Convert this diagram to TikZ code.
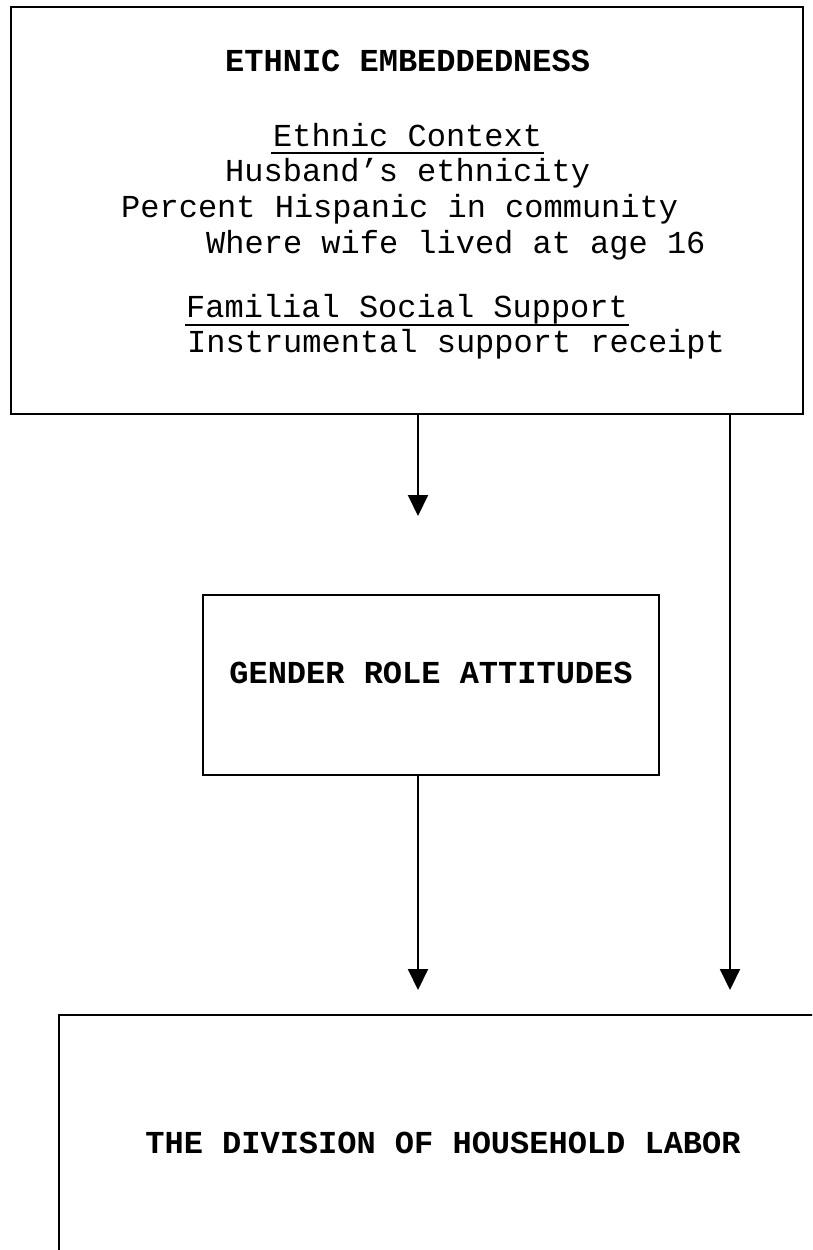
\documentclass[tikz,border=0pt]{standalone}
\usepackage{fontspec}
\setmonofont{Liberation Mono}
\usetikzlibrary{arrows.meta}
\begin{document}
\begin{tikzpicture}[x=1pt,y=-1pt,
  box/.style={draw, line width=2pt, rectangle, inner sep=0pt, anchor=north west},
  txt/.style={inner sep=0pt, font=\ttfamily\fontsize{32}{36}\selectfont},
  ttl/.style={inner sep=0pt, font=\ttfamily\bfseries\fontsize{32}{36}\selectfont},
  arr/.style={line width=2pt, -{Triangle[width=20pt,length=21pt]}},
  uline/.style={line width=2pt}]
\useasboundingbox (0,0) rectangle (812,1250);
\clip (0,0) rectangle (812,1250);
\fill[white] (0,0) rectangle (812,1250);

% boxes
\node[box, minimum width=792pt, minimum height=407pt] (eth) at (10,6) {};
\node[box, minimum width=456pt, minimum height=180pt] (gen) at (202,594) {};
\node[box, minimum width=770pt, minimum height=258pt] (dhl) at (58,1014) {};

% top box texts
\node[ttl, anchor=base west] (t1) at (225,71) {ETHNIC EMBEDDEDNESS};
\node[txt, anchor=base west] (ctx) at (273,146) {Ethnic Context};
\node[txt, anchor=base west] (l1) at (225,181) {Husband’s ethnicity};
\node[txt, anchor=base west] (l2) at (121,217) {Percent Hispanic in community};
\node[txt, anchor=base west] (l3) at (206,253) {Where wife lived at age 16};
\node[txt, anchor=base west] (fam) at (186,317) {Familial Social Support};
\node[txt, anchor=base west] (l4) at (187,352) {Instrumental support receipt};
\draw[uline] ([xshift=-2pt,yshift=-7pt]ctx.base west) -- ([xshift=2pt,yshift=-7pt]ctx.base east);
\draw[uline] ([xshift=-1pt,yshift=-8pt]fam.base west) -- ([xshift=1pt,yshift=-8pt]fam.base east);

% middle and bottom texts
\node[ttl, anchor=base] (gt) at (431,683) {GENDER ROLE ATTITUDES};
\node[ttl, anchor=base] (dt) at (443,1153) {THE DIVISION OF HOUSEHOLD LABOR};

% arrows
\coordinate (tipA) at (418,516);
\coordinate (tipB) at (418,990);
\coordinate (tipC) at (730,990);
\draw[arr] (eth.south -| tipA) -- (tipA);
\draw[arr] (gen.south -| tipB) -- (tipB);
\draw[arr] (eth.south -| tipC) -- (tipC);
\end{tikzpicture}
\end{document}
